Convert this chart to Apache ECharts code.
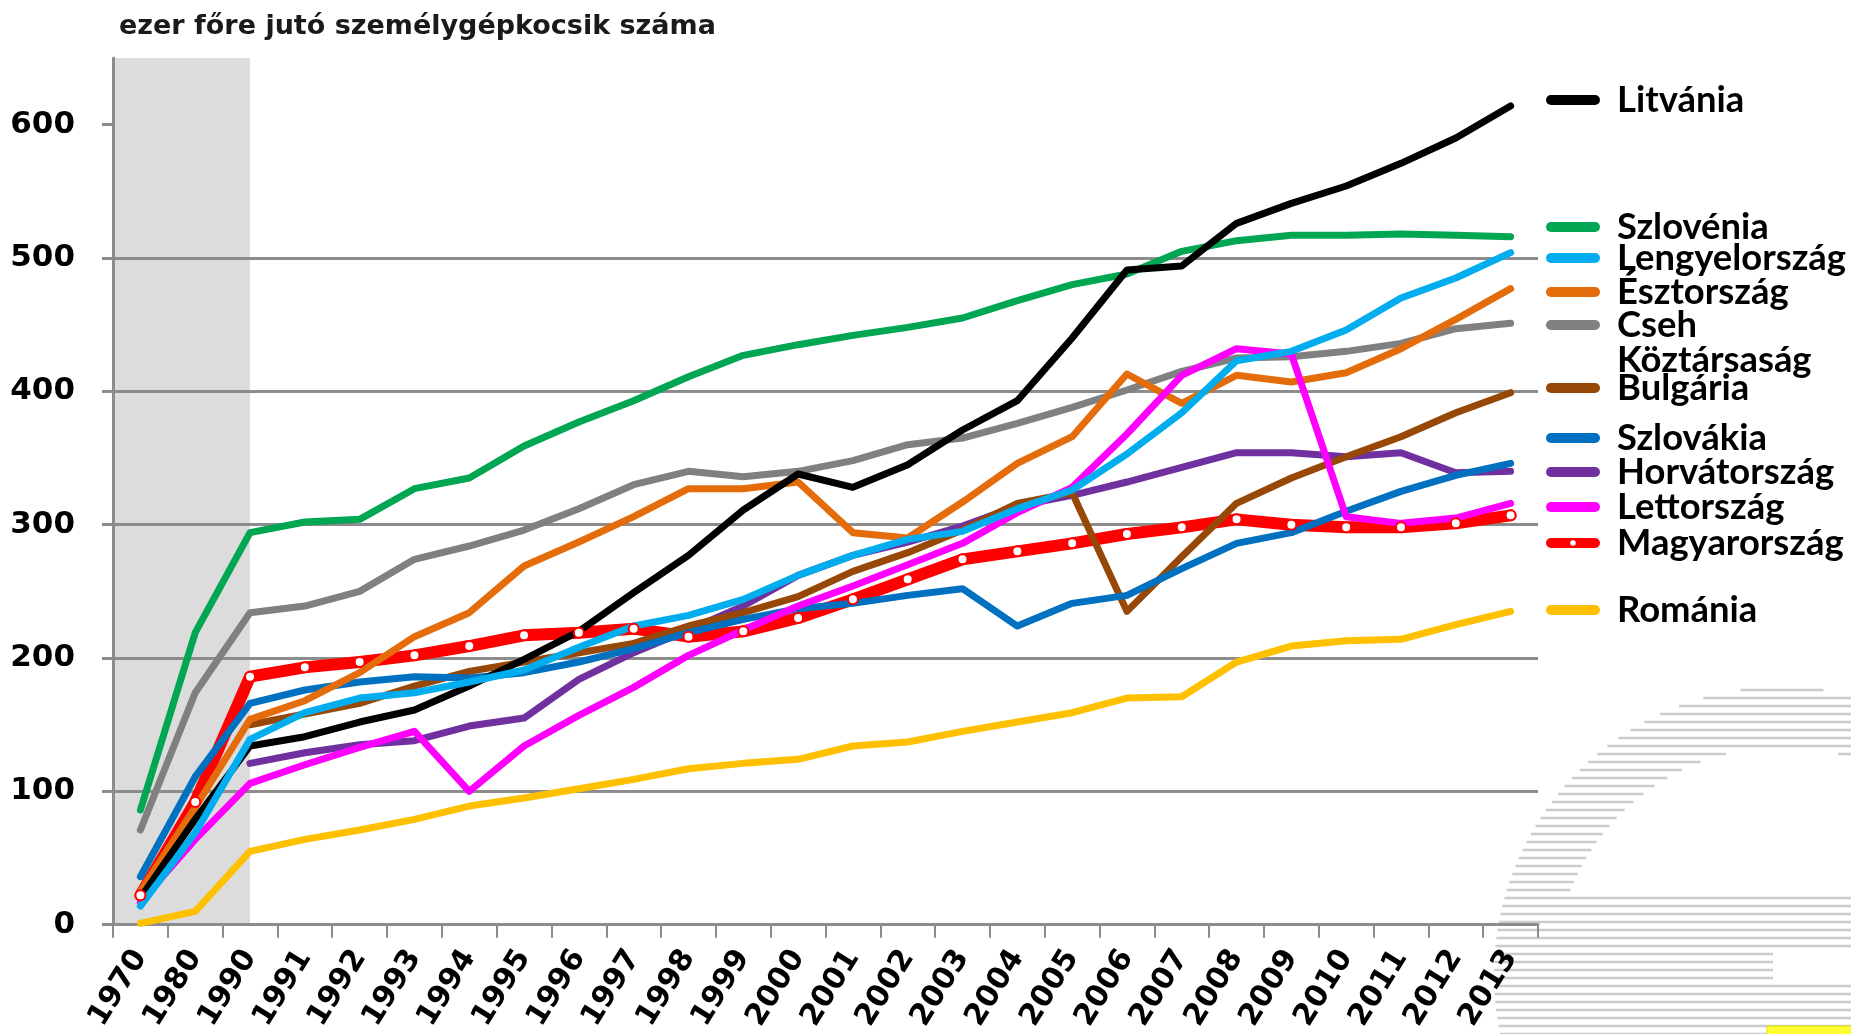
<!DOCTYPE html>
<html><head><meta charset="utf-8">
<script src="https://cdn.jsdelivr.net/npm/echarts@6/dist/echarts.min.js"></script>
<style>html,body{margin:0;padding:0;background:#fff}#c{width:1851px;height:1034px}</style>
</head><body><div id="c"></div>
<script>
// ---- data ----
const years = ['1970','1980','1990','1991','1992','1993','1994','1995','1996','1997','1998','1999','2000','2001','2002','2003','2004','2005','2006','2007','2008','2009','2010','2011','2012','2013'];
const yTicks = [0, 100, 200, 300, 400, 500, 600];
const litvania     = [20, 79, 134, 141, 152, 161, 179, 199, 220, 249, 277, 311, 338, 328, 345, 371, 393, 440, 491, 494, 526, 541, 554, 571, 590, 614];
const szlovenia    = [86, 219, 294, 302, 304, 327, 335, 359, 377, 393, 411, 427, 435, 442, 448, 455, 468, 480, 488, 505, 513, 517, 517, 518, 517, 516];
const lengyel      = [14, 69, 139, 159, 170, 174, 182, 191, 208, 224, 232, 244, 262, 277, 289, 295, 312, 326, 353, 384, 423, 430, 446, 470, 485, 504];
const esztorszag   = [25, 88, 154, 168, 189, 216, 234, 269, 287, 306, 327, 327, 332, 294, 290, 317, 346, 366, 413, 391, 412, 407, 414, 432, 454, 477];
const cseh         = [71, 174, 234, 239, 250, 274, 284, 296, 312, 330, 340, 336, 340, 348, 360, 365, 376, 388, 401, 415, 425, 426, 430, 436, 447, 451];
const bulgaria     = [null, null, 150, 158, 166, 179, 190, 197, 204, 211, 224, 234, 246, 265, 279, 296, 316, 324, 235, 276, 316, 335, 351, 366, 384, 399];
const szlovakia    = [36, 111, 166, 176, 182, 186, 185, 189, 197, 207, 219, 229, 237, 241, 247, 252, 224, 241, 247, 267, 286, 294, 310, 325, 337, 346];
const horvat       = [null, null, 121, 129, 135, 138, 149, 155, 184, 204, 221, 239, 262, 277, 287, 299, 314, 322, 332, 343, 354, 354, 351, 354, 339, 340];
const lettorszag   = [17, 64, 106, 120, 133, 145, 100, 134, 157, 178, 202, 221, 239, 254, 270, 286, 309, 328, 368, 412, 432, 428, 306, 301, 305, 316];
const magyar       = [22, 92, 186, 193, 197, 202, 209, 217, 219, 222, 216, 220, 230, 244, 259, 274, 280, 286, 293, 298, 304, 300, 298, 298, 301, 307];
const romania      = [1, 10, 55, 64, 71, 79, 89, 95, 102, 109, 117, 121, 124, 134, 137, 145, 152, 159, 170, 171, 197, 209, 213, 214, 225, 235];
const titleText = 'ezer főre jutó személygépkocsik száma';
const shadedUntil = '1990';

// ---- fonts ----
const ctx = document.createElement('canvas').getContext('2d');
function fontAvailable(name) {
  const s = 'Lengyelország Köztársaság 0123456789';
  let diff = false;
  ['monospace', 'serif'].forEach(g => {
    ctx.font = 'bold 40px ' + g; const a = ctx.measureText(s).width;
    ctx.font = 'bold 40px "' + name + '", ' + g; const b = ctx.measureText(s).width;
    if (Math.abs(a - b) > 0.5) diff = true;
  });
  return diff;
}
const FONT = 'DejaVu Sans';
// legend font: pick the installed bold face whose width/cap-height ratio is closest to the reference's condensed face
const LEG_FONT = (function () {
  const cands = ['Liberation Sans Narrow', 'Roboto Condensed', 'Noto Sans Condensed', 'DejaVu Sans Condensed',
    'Noto Sans SemiCondensed', 'Liberation Sans', 'Roboto', 'Lato', 'Noto Sans', 'DejaVu Sans'];
  let best = FONT, bestD = Infinity;
  cands.forEach(f => {
    if (!fontAvailable(f)) return;
    ctx.font = 'bold 100px "' + f + '"';
    const w = ctx.measureText('Lengyelország').width;
    const m = ctx.measureText('H');
    const cap = m.actualBoundingBoxAscent || 72;
    const d = Math.abs(w / cap - 8.5);
    if (d < bestD) { bestD = d; best = f; }
  });
  return best;
})();
const LEG_SIZE = (function () {
  ctx.font = 'bold 100px "' + LEG_FONT + '"';
  const w = ctx.measureText('Lengyelország').width;
  return Math.round(100 * 229 / w * 10) / 10;
})();
const LEG_LH = Math.round(LEG_SIZE + 2);

// ---- styling / layout ----
const GRID_GRAY = '#8c8c8c';
const defs = [
  {name: 'Magyarország', data: magyar, color: '#ff0000'},
  {name: 'Románia', data: romania, color: '#ffc000'},
  {name: 'Cseh Köztársaság', data: cseh, color: '#808080'},
  {name: 'Horvátország', data: horvat, color: '#7030a0'},
  {name: 'Bulgária', data: bulgaria, color: '#974806'},
  {name: 'Szlovákia', data: szlovakia, color: '#0070c0'},
  {name: 'Észtország', data: esztorszag, color: '#e46c0a'},
  {name: 'Lettország', data: lettorszag, color: '#ff00ff'},
  {name: 'Szlovénia', data: szlovenia, color: '#00a651'},
  {name: 'Litvánia', data: litvania, color: '#000000'},
  {name: 'Lengyelország', data: lengyel, color: '#00aeef'}
];
const legendLayout = [
  ['Litvánia', 100], ['Szlovénia', 227], ['Lengyelország', 258], ['Észtország', 292],
  ['Cseh Köztársaság', 325], ['Bulgária', 388], ['Szlovákia', 438], ['Horvátország', 472],
  ['Lettország', 507], ['Magyarország', 543], ['Románia', 610]
];
const capsule = 'path://M5,0L49,0A5,5,0,0,1,49,10L5,10A5,5,0,0,1,5,0Z';
const capsuleDot = 'path://M5,0L49,0A5,5,0,0,1,49,10L5,10A5,5,0,0,1,5,0ZM27,2.2A2.8,2.8,0,0,0,27,7.8A2.8,2.8,0,0,0,27,2.2Z';

const series = defs.map(d => {
  const isHU = d.name === 'Magyarország';
  return {
    name: d.name, type: 'line', data: d.data,
    color: d.color,
    animation: false,
    connectNulls: false,
    symbol: isHU ? 'emptyCircle' : 'none',
    showSymbol: isHU,
    showAllSymbol: true,
    symbolSize: 10,
    itemStyle: {color: d.color, borderWidth: 1},
    lineStyle: {color: d.color, width: isHU ? 12 : 7, cap: 'round', join: 'round'},
    emphasis: {disabled: true},
    z: 2
  };
});
series[0].markArea = {
  silent: true, z: 1,
  itemStyle: {color: '#dcdcdc'},
  data: [[{}, {xAxis: shadedUntil}]]
};

const legends = legendLayout.map(([name, cy]) => ({
  data: [{name: name, icon: name === 'Magyarország' ? capsuleDot : capsule}],
  left: 1546, top: cy - LEG_LH / 2, padding: 0,
  itemWidth: 54, itemHeight: 10,
  selectedMode: false,
  formatter: n => n === 'Cseh Köztársaság' ? 'Cseh' : n,
  textStyle: {fontFamily: LEG_FONT, fontWeight: 'bold', fontSize: LEG_SIZE, color: '#000', lineHeight: LEG_LH, padding: [0, 0, 0, 12]}
}));

// decorative striped emblem in the lower right corner (page ornament, not data)
function ornament() {
  const els = [];
  const cx = 1782, cy = 975, R = 288, Ri = 228, W = 1851, H = 1034;
  for (let y = 690; y <= H; y += 8) {
    const dy = y - cy;
    if (Math.abs(dy) >= R) continue;
    const hw = Math.sqrt(R * R - dy * dy);
    let segs = [[cx - hw, Math.min(W, cx + hw)]];
    if (y < 895 && Math.abs(dy) < Ri) {
      const iw = Math.sqrt(Ri * Ri - dy * dy);
      segs = [[cx - hw, cx - iw], [Math.min(W, cx + iw), Math.min(W, cx + hw)]];
    }
    if (y > 950 && y < 980) segs = segs.map(s => [s[0], Math.min(s[1], 1773)]);
    segs.forEach(s => {
      if (s[1] - s[0] > 1) els.push({type: 'line', silent: true, z: -10,
        shape: {x1: s[0], y1: y, x2: s[1], y2: y}, style: {stroke: '#cccccc', lineWidth: 2.5}});
    });
  }
  els.push({type: 'rect', silent: true, z: -9, shape: {x: 1767, y: 1026, width: 84, height: 10},
    style: {fill: '#ffff33', stroke: '#e6e600', lineWidth: 1}});
  return els;
}

const chart = echarts.init(document.getElementById('c'), null, {renderer: 'canvas'});
chart.setOption({
  backgroundColor: '#fff',
  animation: false,
  title: {
    text: titleText, left: 119, top: 13, padding: 0,
    textStyle: {fontFamily: FONT, fontWeight: 'bold', fontSize: 27, color: '#1a1a1a'}
  },
  legend: legends,
  graphic: ornament().concat([{
    type: 'text', left: 1617, top: 361 - LEG_LH / 2,
    style: {text: 'Köztársaság', font: 'bold ' + LEG_SIZE + 'px "' + LEG_FONT + '"', fill: '#000'}
  }]),
  grid: {left: 113, right: 313, top: 58, bottom: 108.5, containLabel: false},
  xAxis: {
    type: 'category', data: years, boundaryGap: true, z: 1.5,
    axisLine: {show: true, lineStyle: {color: GRID_GRAY, width: 3}},
    axisTick: {show: true, interval: 0, length: 13, lineStyle: {color: GRID_GRAY, width: 2}},
    axisLabel: {interval: 0, rotate: 58, margin: 28, fontFamily: FONT, fontWeight: 'bold', fontSize: 30, color: '#000'},
    splitLine: {show: false}
  },
  yAxis: {
    type: 'value', min: 0, max: 650, interval: 100, z: 1.5,
    axisLine: {show: true, lineStyle: {color: GRID_GRAY, width: 3}},
    axisTick: {show: true, length: 11, lineStyle: {color: GRID_GRAY, width: 3}, customValues: yTicks},
    axisLabel: {margin: 38, fontFamily: FONT, fontWeight: 'bold', fontSize: 31, color: '#000', customValues: yTicks},
    splitLine: {show: true, showMaxLine: false, lineStyle: {color: GRID_GRAY, width: 3}}
  },
  series: series
});
</script></body></html>
